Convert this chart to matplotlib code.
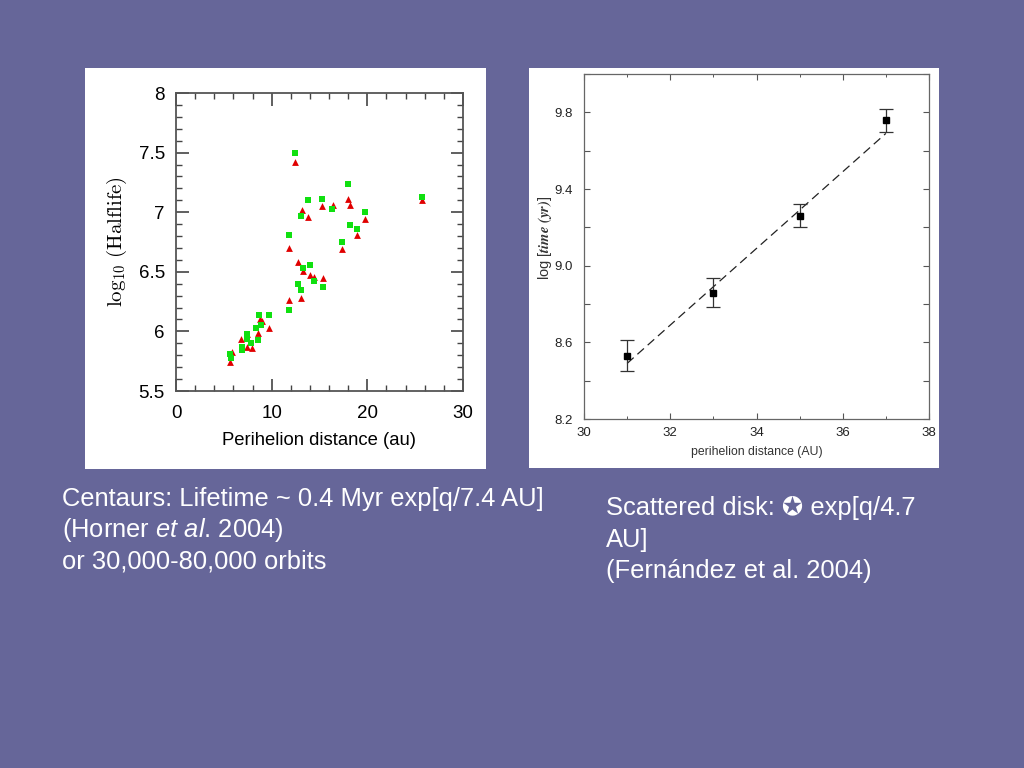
import matplotlib.pyplot as plt
from matplotlib.patches import Rectangle
from matplotlib.ticker import MultipleLocator

plt.rcParams['mathtext.it'] = 'Liberation Sans:italic'
plt.rcParams['mathtext.rm'] = 'Liberation Sans'

# Left panel: Centaur half-lives (Horner et al. 2004)
green_q = [12.42, 17.96, 13.85, 15.21, 25.67, 13.08, 16.29, 19.78, 18.14, 18.90,
           17.34, 11.79, 14.02, 13.25, 12.77, 13.08, 14.41, 15.38, 11.79, 9.70,
           8.69, 8.90, 8.41, 8.55, 7.43, 7.46, 7.88, 6.90, 6.90, 5.62, 5.75]
green_t = [7.50, 7.24, 7.10, 7.11, 7.13, 6.97, 7.03, 7.00, 6.89, 6.86,
           6.75, 6.81, 6.56, 6.53, 6.40, 6.35, 6.42, 6.37, 6.18, 6.14,
           6.14, 6.05, 6.03, 5.93, 5.98, 5.94, 5.90, 5.87, 5.84, 5.81, 5.78]
red_q = [12.42, 17.96, 18.14, 16.36, 15.21, 13.15, 13.85, 25.67, 19.78, 18.90,
         17.34, 11.79, 12.73, 13.25, 14.02, 14.41, 15.38, 13.04, 11.79, 9.70,
         8.82, 8.97, 8.55, 6.80, 7.46, 7.95, 5.86, 5.69, 7.43]
red_t = [7.42, 7.11, 7.06, 7.06, 7.05, 7.02, 6.96, 7.10, 6.94, 6.81,
         6.69, 6.70, 6.58, 6.51, 6.47, 6.46, 6.45, 6.28, 6.26, 6.03,
         6.10, 6.09, 5.99, 5.94, 5.87, 5.86, 5.83, 5.74, 5.98]

# Right panel: scattered disk (Fernandez et al. 2004)
sd_q = [31, 33, 35, 37]
sd_logt = [8.53, 8.86, 9.26, 9.76]
sd_err = [0.08, 0.075, 0.06, 0.06]
fit_q = [31, 37]
fit_logt = [8.49, 9.69]

bg = '#666699'
sans = ['Liberation Sans', 'DejaVu Sans']

fig = plt.figure(figsize=(10.24, 7.68), dpi=100)
fig.patch.set_facecolor(bg)

# white panels behind the two plots
fig.patches.append(Rectangle((85/1024, 1-469/768), 401/1024, 401/768,
                             transform=fig.transFigure, facecolor='white', zorder=-10))
fig.patches.append(Rectangle((529/1024, 1-468/768), 410/1024, 400/768,
                             transform=fig.transFigure, facecolor='white', zorder=-10))

# --- left plot ---
ax1 = fig.add_axes([176/1024, 1-391/768, 287/1024, 298/768])
ax1.scatter(red_q, red_t, marker='^', s=24, color='#e00000', linewidths=0, zorder=3)
ax1.scatter(green_q, green_t, marker='s', s=22, color='#10e010', linewidths=0, zorder=4)
ax1.set_xlim(0, 30)
ax1.set_ylim(5.5, 8)
ax1.xaxis.set_minor_locator(MultipleLocator(2))
ax1.yaxis.set_minor_locator(MultipleLocator(0.1))
ax1.set_xticks([0, 10, 20, 30])
ax1.set_xticklabels(['0', '10', '20', '30'])
ax1.set_yticks([5.5, 6, 6.5, 7, 7.5, 8])
ax1.set_yticklabels(['5.5', '6', '6.5', '7', '7.5', '8'])
ax1.tick_params(which='both', direction='in', top=True, right=True, color='#444444')
ax1.tick_params(which='major', length=9, width=1.2, labelsize=13.5)
ax1.tick_params(axis='x', which='major', pad=10)
ax1.tick_params(axis='y', which='major', pad=8)
ax1.tick_params(which='minor', length=4.5, width=1.0)
for lab in ax1.get_xticklabels() + ax1.get_yticklabels():
    lab.set_family(sans)
for sp in ax1.spines.values():
    sp.set_color('#555555')
    sp.set_linewidth(1.3)
ax1.set_xlabel('Perihelion distance (au)', fontsize=13.3, family=sans, labelpad=7)
ax1.set_ylabel(r'$\mathrm{log}_{10}\ \mathrm{(Halflife)}$', fontsize=15, labelpad=7,
               math_fontfamily='cm')

# --- right plot ---
ax2 = fig.add_axes([584/1024, 1-419/768, 345/1024, 345/768])
ax2.plot(fit_q, fit_logt, color='#222222', linestyle=(0, (7, 4)), linewidth=0.9, zorder=2)
ax2.errorbar(sd_q, sd_logt, yerr=sd_err, fmt='s', color='black', markersize=4.3,
             ecolor='#333333', elinewidth=0.9, capsize=5, capthick=0.9, zorder=3)
ax2.set_xlim(30, 38)
ax2.set_ylim(8.2, 10.0)
ax2.xaxis.set_major_locator(MultipleLocator(2))
ax2.xaxis.set_minor_locator(MultipleLocator(1))
ax2.set_yticks([8.2, 8.4, 8.6, 8.8, 9.0, 9.2, 9.4, 9.6, 9.8, 10.0])
ax2.set_yticklabels(['8.2', '', '8.6', '', '9.0', '', '9.4', '', '9.8', ''])
ax2.tick_params(which='both', direction='in', top=True, right=True, color='#555555')
ax2.tick_params(which='major', length=4, width=0.8, labelsize=9.5)
ax2.tick_params(axis='x', which='major', pad=5.5)
ax2.tick_params(axis='y', which='major', pad=8)
ax2.tick_params(which='minor', length=2.5, width=0.7)
for lab in ax2.get_xticklabels() + ax2.get_yticklabels():
    lab.set_family(sans)
    lab.set_color('#222222')
for sp in ax2.spines.values():
    sp.set_color('#666666')
    sp.set_linewidth(0.9)
ax2.set_xlabel('perihelion distance (AU)', fontsize=8.8, family=sans, color='#333333', labelpad=5)
ax2.set_ylabel(r'log [$\mathbfit{time\ (yr)}$]', fontsize=10.5, family=sans,
               color='#333333', math_fontfamily='stix')
ax2.yaxis.set_label_coords(-0.088, 0.525)

# --- captions ---
fs = 18.4
fig.text(62/1024, 1-499/768, 'Centaurs: Lifetime ~ 0.4 Myr exp[q/7.4 AU]',
         color='white', fontsize=fs, family=sans, va='center')
fig.text(62/1024, 1-530/768, r'(Horner $\mathit{et\ al}$. 2004)',
         color='white', fontsize=fs, family=sans, va='center', math_fontfamily='custom')
fig.text(62/1024, 1-561/768, 'or 30,000-80,000 orbits',
         color='white', fontsize=fs, family=sans, va='center')
fig.text(606/1024, 1-508/768, 'Scattered disk: \u272a exp[q/4.7',
         color='white', fontsize=fs, family=sans, va='center')
fig.text(606/1024, 1-540/768, 'AU]',
         color='white', fontsize=fs, family=sans, va='center')
fig.text(606/1024, 1-571/768, '(Fern\u00e1ndez et al. 2004)',
         color='white', fontsize=fs, family=sans, va='center')

fig.savefig('out.png', dpi=100, facecolor=bg)
